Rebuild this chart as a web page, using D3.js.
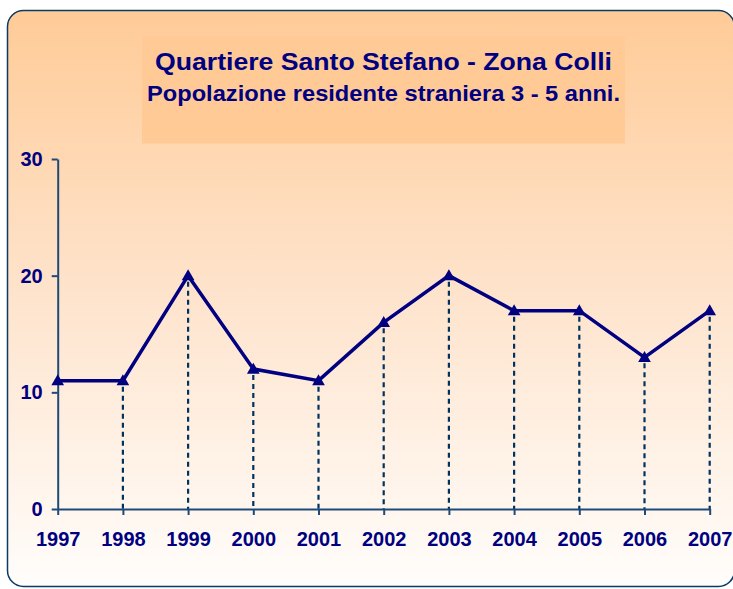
<!DOCTYPE html>
<html><head><meta charset="utf-8">
<script src="https://cdn.jsdelivr.net/npm/d3@7"></script>
<style>html,body{margin:0;padding:0;background:#fff;} svg{display:block}</style>
</head><body>
<script>
const years = ["1997","1998","1999","2000","2001","2002","2003","2004","2005","2006","2007"];
const values = [11, 11, 20, 12, 11, 16, 20, 17, 17, 13, 17];
const yTicks = [0, 10, 20, 30];
const titleMain = "Quartiere Santo Stefano - Zona Colli";
const titleSub = "Popolazione residente straniera 3 - 5 anni.";

const W = 733, H = 589;
const FONT = "'Liberation Sans', Arial, Helvetica, sans-serif";
const NAVY = "#000080";
const AXIS = "#1f4a78";

const svg = d3.select("body").append("svg").attr("width", W).attr("height", H);

const defs = svg.append("defs");
const grad = defs.append("linearGradient").attr("id", "bg").attr("x1", 0).attr("y1", 0).attr("x2", 0).attr("y2", 1);
grad.append("stop").attr("offset", "0%").attr("stop-color", "#FFCB97");
grad.append("stop").attr("offset", "50%").attr("stop-color", "#FEE4CD");
grad.append("stop").attr("offset", "100%").attr("stop-color", "#FFFDFB");

svg.append("rect").attr("x", 7.5).attr("y", 10.5).attr("width", 727).attr("height", 576)
  .attr("rx", 16).attr("ry", 16).attr("fill", "url(#bg)")
  .attr("stroke", "#0b3a66").attr("stroke-width", 1.5);

// title box
svg.append("rect").attr("x", 142).attr("y", 36).attr("width", 483).attr("height", 107.5)
  .attr("fill", "#FFCA96");

svg.append("text").attr("x", 383.5).attr("y", 69.5).attr("text-anchor", "middle")
  .attr("font-family", FONT).attr("font-weight", "bold").attr("font-size", 24.5)
  .attr("fill", NAVY).attr("textLength", 457).attr("lengthAdjust", "spacingAndGlyphs")
  .text(titleMain);
svg.append("text").attr("x", 383.5).attr("y", 100.5).attr("text-anchor", "middle")
  .attr("font-family", FONT).attr("font-weight", "bold").attr("font-size", 22)
  .attr("fill", NAVY).attr("textLength", 473).attr("lengthAdjust", "spacingAndGlyphs")
  .text(titleSub);

const x = d3.scalePoint().domain(years).range([57.7, 709.7]);
const y = d3.scaleLinear().domain([0, 30]).range([509, 159]);

// drop lines
svg.append("g").selectAll("line").data(years.map((yr, i) => ({yr, v: values[i]})).slice(1))
  .join("line")
  .attr("x1", d => x(d.yr)).attr("x2", d => x(d.yr))
  .attr("y1", d => y(d.v) + 6).attr("y2", y(0))
  .attr("stroke", "#00325f").attr("stroke-width", 2.2).attr("stroke-dasharray", "5,4");

// axes
const gy = svg.append("g").attr("transform", "translate(57.7,0)")
  .call(d3.axisLeft(y).tickValues(yTicks).tickSize(6).tickSizeOuter(0).tickPadding(9).tickFormat(d3.format("d")));
const gx = svg.append("g").attr("transform", "translate(0,509)")
  .call(d3.axisBottom(x).tickSize(6).tickSizeOuter(0).tickPadding(17));
[gx, gy].forEach(g => {
  g.select(".domain").attr("stroke", AXIS).attr("stroke-width", 2);
  g.selectAll(".tick line").attr("stroke", AXIS).attr("stroke-width", 2);
  g.selectAll(".tick text").attr("fill", NAVY).attr("font-family", FONT)
    .attr("font-weight", "bold").attr("font-size", 20);
});

// line
const pts = years.map((yr, i) => [x(yr), y(values[i])]);
svg.append("path").attr("d", d3.line()(pts)).attr("fill", "none")
  .attr("stroke", NAVY).attr("stroke-width", 3.5).attr("stroke-linejoin", "miter");

// markers
const tri = d3.symbol(d3.symbolTriangle, 70)();
svg.append("g").selectAll("path").data(pts).join("path")
  .attr("d", tri).attr("transform", d => `translate(${d[0]},${d[1] + 1})`)
  .attr("fill", NAVY);
</script>
</body></html>
